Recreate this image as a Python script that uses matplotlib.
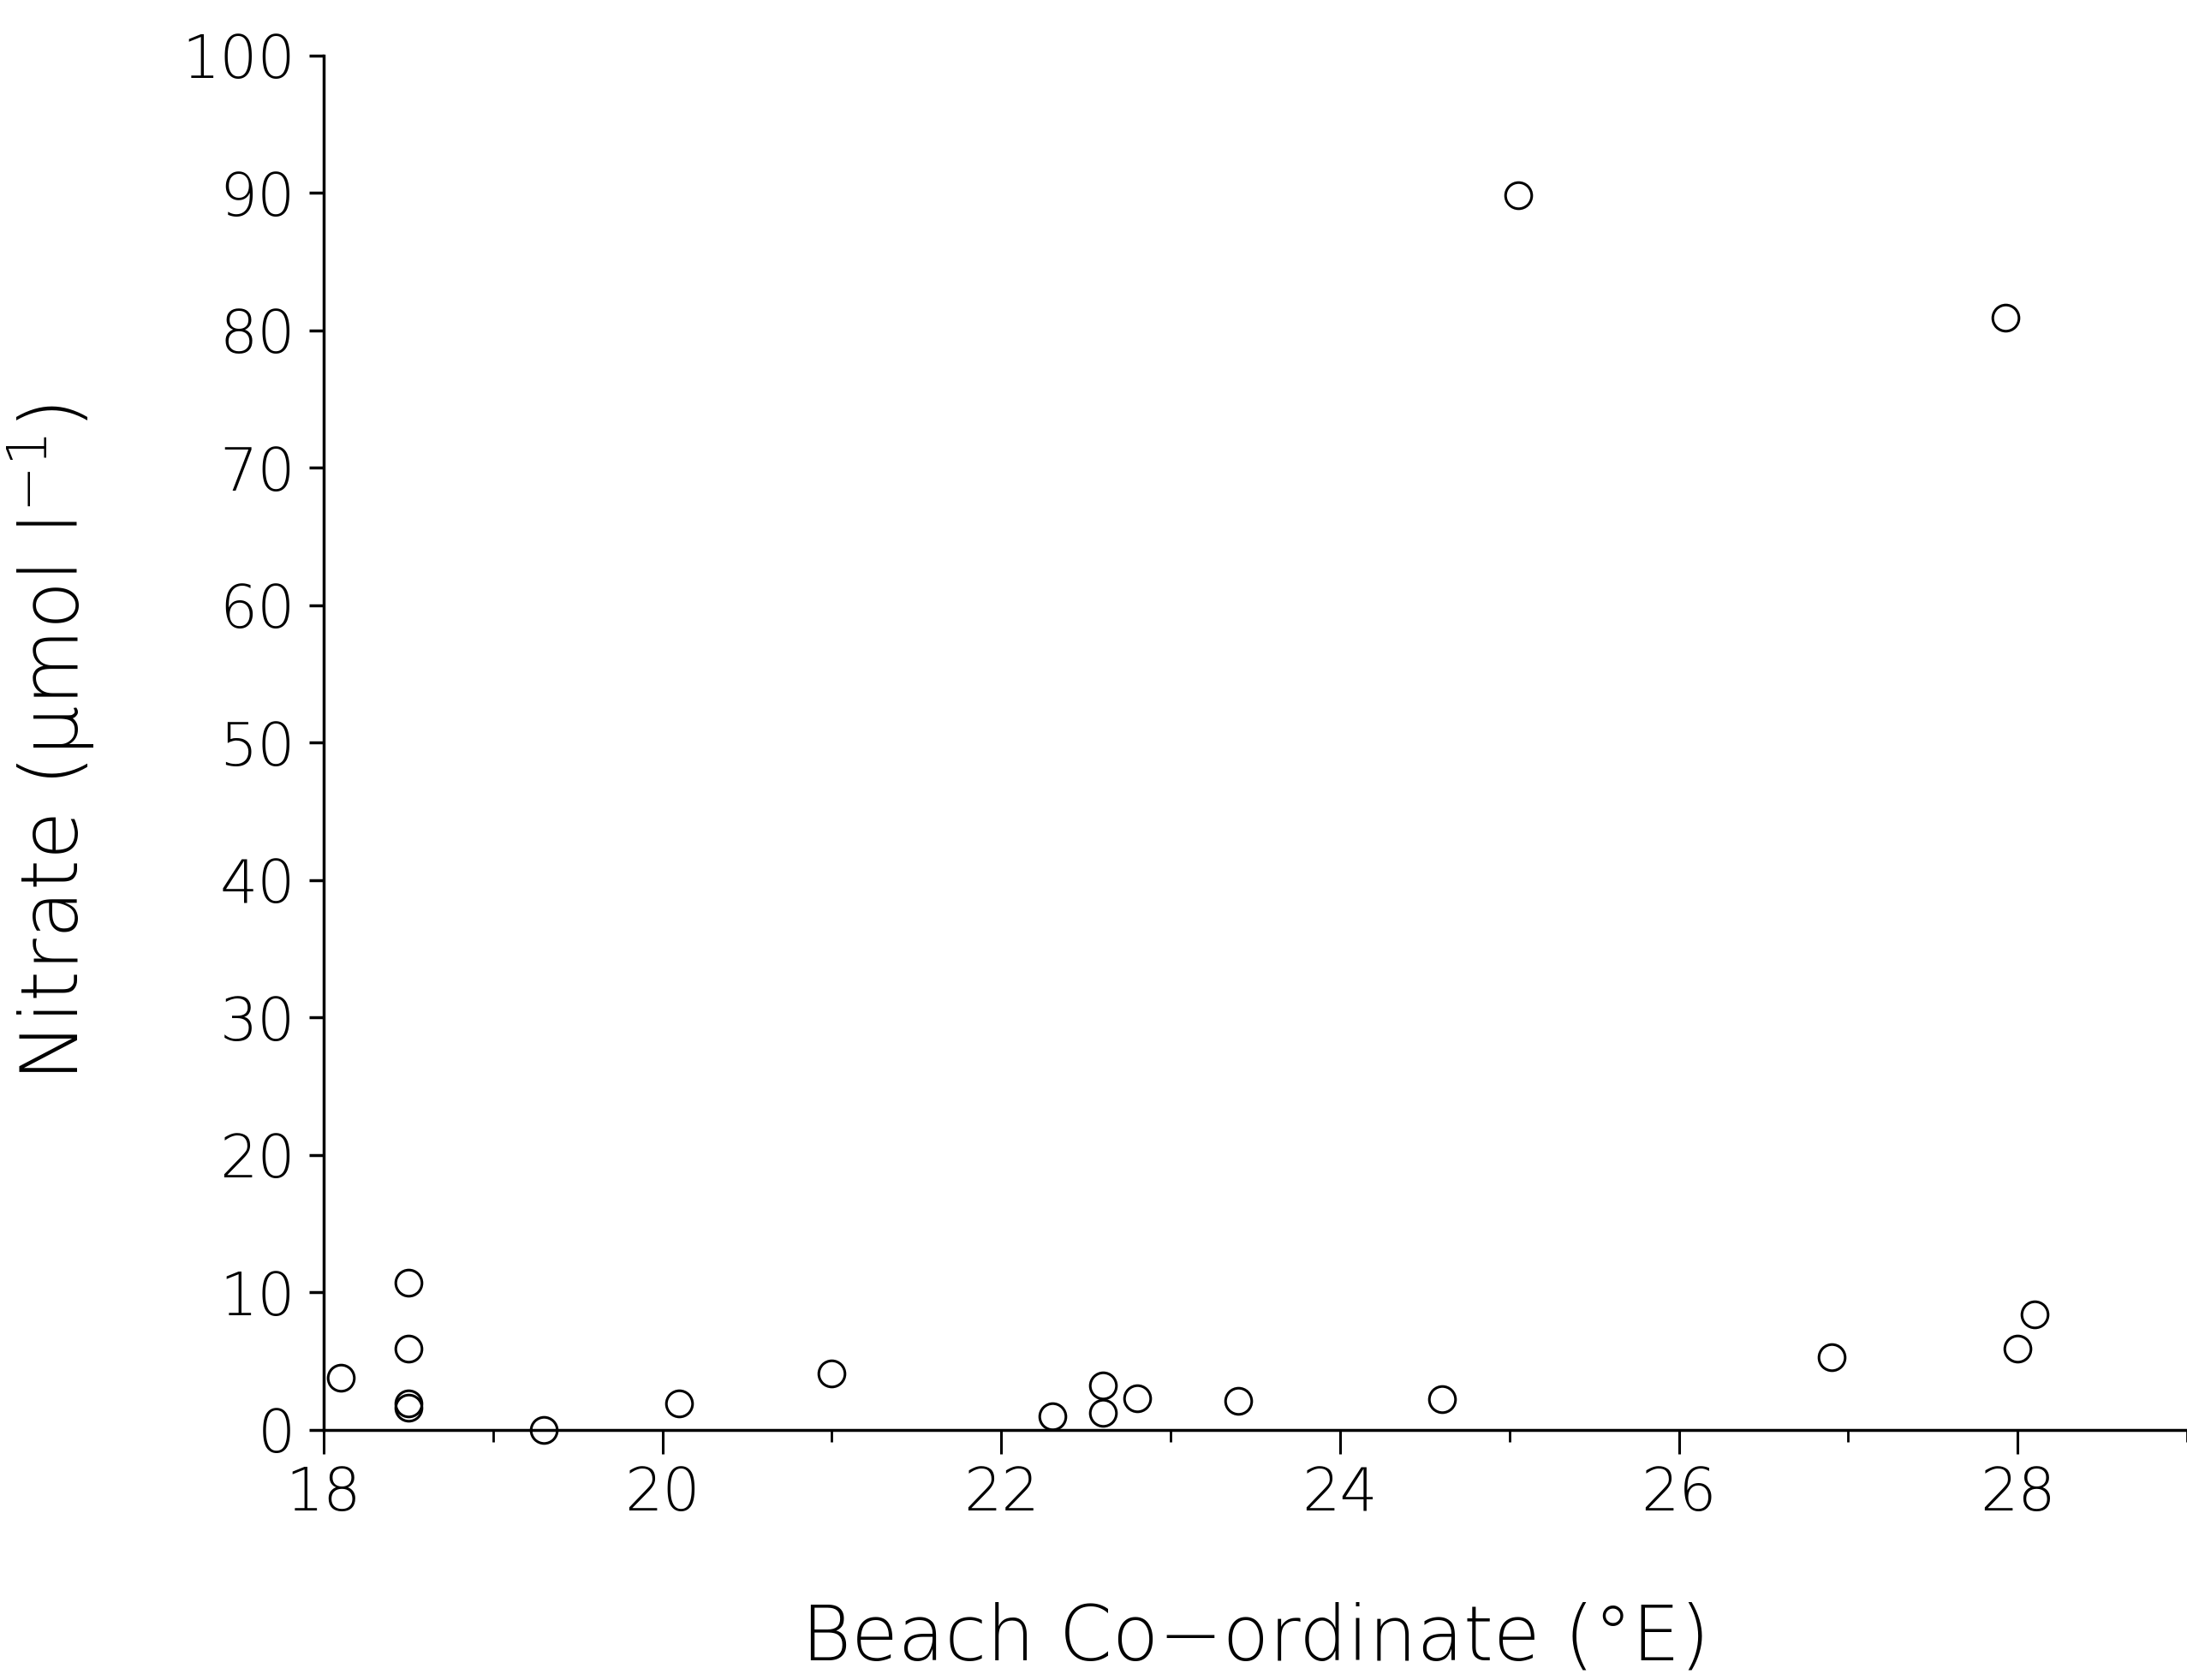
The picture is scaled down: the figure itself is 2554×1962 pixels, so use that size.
import matplotlib.pyplot as plt
from matplotlib.ticker import MultipleLocator

# beach longitude (deg E) and nitrate concentration (umol/l)
longitude = [18.1, 18.5, 18.5, 18.5, 18.5, 19.3, 20.1, 21.0, 22.3, 22.6,
             22.6, 22.8, 23.4, 24.6, 25.05, 26.9, 27.93, 28.0, 28.1]
nitrate = [3.8, 10.7, 5.9, 1.9, 1.6, 0.0, 1.9, 4.1, 1.0, 3.2,
           1.2, 2.3, 2.1, 2.2, 89.8, 5.3, 80.9, 5.9, 8.4]

x_ticks = [18, 20, 22, 24, 26, 28]
y_ticks = [0, 10, 20, 30, 40, 50, 60, 70, 80, 90, 100]

plt.rcParams['font.family'] = ['DejaVu Sans']
plt.rcParams['font.weight'] = 'light'
plt.rcParams['axes.labelweight'] = 'light'
plt.rcParams['mathtext.fontset'] = 'custom'
plt.rcParams['mathtext.rm'] = 'DejaVu Sans:light'
plt.rcParams['mathtext.it'] = 'DejaVu Sans:italic'

fig = plt.figure(figsize=(25.54, 19.62), dpi=100)
ax = fig.add_axes([0.148, 0.149, 0.852, 0.818])

ax.plot(longitude, nitrate, linestyle='none', marker='o', markersize=22,
        markerfacecolor='none', markeredgecolor='black', markeredgewidth=2.2,
        clip_on=False)

ax.set_xlim(18, 29)
ax.set_ylim(0, 100)
ax.set_xticks(x_ticks)
ax.set_yticks(y_ticks)
ax.xaxis.set_minor_locator(MultipleLocator(1))

for side in ['top', 'right']:
    ax.spines[side].set_visible(False)
for side in ['left', 'bottom']:
    ax.spines[side].set_linewidth(2.5)

ax.tick_params(axis='y', direction='out', length=12, width=2.5,
               pad=12, labelsize=50)
ax.tick_params(axis='x', which='major', direction='out', length=20,
               width=2.2, pad=10, labelsize=50)
ax.tick_params(axis='x', which='minor', direction='out', length=10,
               width=2.0)

ax.set_xlabel('Beach Co\u2212ordinate (\u00b0E)', fontsize=64)
ax.xaxis.set_label_coords(0.50, -0.125)
ax.set_ylabel('Nitrate (\u03bcmol l$^{-1}$)', fontsize=66)
ax.yaxis.set_label_coords(-0.122, 0.5)

fig.savefig('out.png', dpi=100, facecolor='white')
